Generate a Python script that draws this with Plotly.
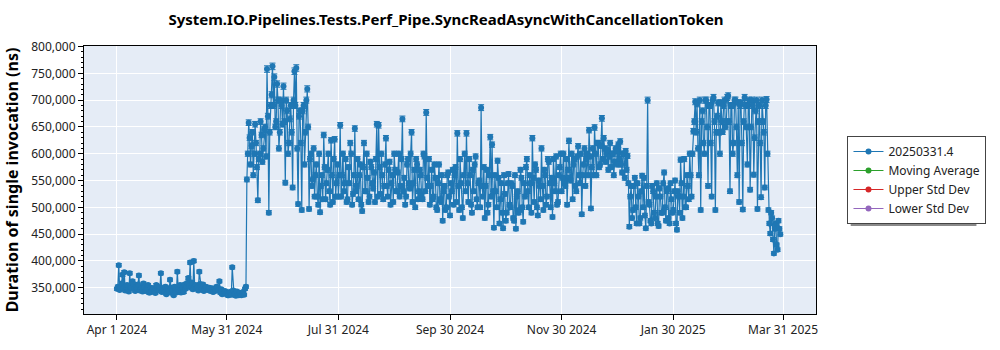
import pandas as pd
import plotly.graph_objects as go

TITLE = "System.IO.Pipelines.Tests.Perf_Pipe.SyncReadAsyncWithCancellationToken"
SERIES_NAME = "20250331.4"
Y_TITLE = "Duration of single invocation (ns)"
START_DATE = "2024-04-01"

# Morning run, mean duration in thousands of ns, one list per month
apr_2024 = [348, 392, 350, 374, 379, 352, 346, 377, 350, 357,
            344, 349, 373, 347, 343, 351, 346, 355, 341, 344,
            349, 340, 352, 345, 377, 348, 342, 338, 347, 365]
may_2024 = [340, 336, 345, 380, 343, 341, 350, 356, 352, 368,
            397, 360, 400, 355, 350, 380, 352, 356, 348, 351,
            346, 344, 349, 343, 345, 350, 362, 347, 341, 344, 339]
jun_2024 = [336, 340, 388, 337, 335, 338, 340, 336, 342, 348,
            552, 658, 580, 640, 600, 620, 513, 600, 635, 610,
            650, 758, 490, 690, 763, 743, 660, 700, 640, 690]
jul_2024 = [726, 546, 680, 620, 690, 537, 754, 760, 506, 680,
            495, 690, 640, 721, 497, 600, 552, 520, 580, 505,
            491, 560, 635, 515, 570, 530, 625, 510, 627, 545, 520]
aug_2024 = [653, 560, 530, 590, 515, 545, 600, 525, 647, 540,
            515, 580, 493, 620, 530, 555, 520, 575, 535, 510,
            655, 653, 525, 560, 540, 629, 520, 585, 545, 510, 570]
sep_2024 = [530, 600, 540, 665, 555, 520, 590, 535, 640, 545,
            500, 580, 530, 560, 515, 595, 677, 540, 505, 570,
            520, 555, 495, 580, 510, 475, 540, 500, 565, 485]
oct_2024 = [530, 505, 575, 638, 495, 545, 480, 600, 638, 510,
            560, 490, 530, 595, 500, 550, 686, 520, 480, 570,
            505, 631, 617, 462, 530, 587, 470, 545, 461, 525, 490]
nov_2024 = [562, 500, 540, 475, 460, 530, 495, 555, 473, 520,
            590, 500, 545, 629, 510, 570, 485, 540, 610, 495,
            560, 520, 585, 500, 482, 545, 595, 510, 575, 530]
dec_2024 = [600, 540, 505, 624, 550, 515, 590, 530, 614, 545,
            487, 580, 540, 600, 644, 498, 610, 649, 560, 620,
            580, 666, 629, 585, 608, 595, 575, 600, 585, 605, 617]
jan_2025 = [623, 565, 600, 605, 596, 464, 540, 495, 555, 470,
            520, 480, 559, 555, 461, 700, 505, 470, 530, 480,
            545, 465, 520, 490, 565, 475, 535, 470, 515, 495, 550]
feb_2025 = [458, 520, 589, 480, 590, 500, 540, 600, 520, 642,
            697, 693, 560, 495, 680, 600, 700, 540, 690, 520,
            705, 495, 670, 640, 695, 641, 700, 660]
mar_2025 = [708, 530, 690, 620, 700, 560, 510, 695, 496, 705,
            650, 690, 533, 700, 561, 680, 497, 690, 519, 660,
            537, 701, 495, 451, 480, 414, 470, 421, 460]

# Afternoon run, mean duration in thousands of ns, one list per month
apr_2024_b = [352, 346, 358, 349, 345, 355, 343, 350, 362, 347,
              352, 356, 345, 350, 358, 344, 349, 341, 350, 347,
              343, 355, 346, 351, 342, 345, 352, 349, 343, 350]
may_2024_b = [345, 352, 341, 347, 355, 346, 342, 348, 359, 353,
              350, 347, 353, 349, 345, 357, 348, 344, 352, 347,
              350, 346, 342, 348, 352, 345, 341, 338, 343, 339, 336]
jun_2024_b = [342, 337, 345, 339, 343, 336, 339, 341, 337, 352,
              600, 630, 615, 560, 655, 575, 590, 660, 585, 645,
              595, 670, 640, 710, 690, 650, 730, 610, 700, 655]
jul_2024_b = [660, 700, 600, 665, 640, 700, 690, 610, 670, 620,
              680, 580, 700, 650, 590, 540, 610, 560, 520, 600,
              540, 515, 575, 545, 600, 505, 560, 590, 520, 580, 560]
aug_2024_b = [520, 600, 545, 510, 575, 620, 505, 560, 530, 590,
              560, 505, 575, 530, 600, 510, 585, 545, 565, 590,
              520, 575, 600, 515, 580, 540, 570, 505, 560, 600, 530]
sep_2024_b = [565, 520, 590, 530, 505, 580, 545, 600, 510, 570,
              590, 515, 570, 520, 600, 530, 555, 590, 540, 515,
              580, 500, 545, 515, 560, 530, 495, 560, 520, 545]
oct_2024_b = [570, 560, 510, 540, 590, 500, 560, 530, 545, 590,
              505, 570, 580, 515, 545, 500, 540, 575, 540, 490,
              560, 520, 530, 560, 500, 555, 515, 490, 560, 475, 545]
nov_2024_b = [505, 545, 480, 560, 520, 490, 570, 500, 545, 575,
              530, 560, 490, 555, 580, 500, 550, 515, 540, 570,
              505, 590, 545, 555, 590, 530, 505, 560, 600, 555]
dec_2024_b = [545, 590, 570, 555, 600, 580, 540, 595, 560, 600,
              560, 610, 590, 560, 595, 575, 560, 600, 620, 575,
              615, 590, 610, 600, 570, 620, 600, 560, 610, 580, 590]
jan_2025_b = [580, 600, 555, 570, 545, 520, 480, 540, 500, 545,
              470, 530, 500, 485, 540, 510, 475, 540, 490, 520,
              470, 535, 490, 545, 500, 530, 480, 545, 490, 530, 470]
feb_2025_b = [530, 490, 545, 520, 500, 560, 515, 560, 600, 660,
              640, 610, 700, 660, 620, 700, 650, 690, 620, 700,
              660, 640, 695, 600, 660, 690, 650, 705]
mar_2025_b = [660, 690, 600, 700, 650, 695, 690, 620, 660, 690,
              580, 700, 650, 690, 630, 700, 660, 620, 700, 640,
              690, 600, 470, 490, 440, 460, 430, 475, 450]

legend_extra = ["Moving Average", "Upper Std Dev", "Lower Std Dev"]
legend_colors = ["#2ca02c", "#d62728", "#9467bd"]

tick_dates = ["2024-04-01", "2024-05-31", "2024-07-31", "2024-09-30",
              "2024-11-30", "2025-01-30", "2025-03-31"]
tick_labels = ["Apr 1 2024", "May 31 2024", "Jul 31 2024", "Sep 30 2024",
               "Nov 30 2024", "Jan 30 2025", "Mar 31 2025"]
y_ticks = [350000, 400000, 450000, 500000, 550000, 600000, 650000, 700000, 750000, 800000]

months_a = [apr_2024, may_2024, jun_2024, jul_2024, aug_2024, sep_2024,
            oct_2024, nov_2024, dec_2024, jan_2025, feb_2025, mar_2025]
months_b = [apr_2024_b, may_2024_b, jun_2024_b, jul_2024_b, aug_2024_b, sep_2024_b,
            oct_2024_b, nov_2024_b, dec_2024_b, jan_2025_b, feb_2025_b, mar_2025_b]
vals_a = [v for m in months_a for v in m]
vals_b = [v for m in months_b for v in m]
days = pd.date_range(START_DATE, periods=len(vals_a), freq="D")

xs, ys = [], []
for d, a, b in zip(days, vals_a, vals_b):
    xs += [d, d + pd.Timedelta(hours=12)]
    ys += [a * 1000, b * 1000]

FONT = "Noto Sans, Open Sans, sans-serif"
BLUE = "#1f77b4"

fig = go.Figure()
fig.add_trace(go.Scatter(
    x=xs, y=ys, name=SERIES_NAME, mode="lines+markers",
    line=dict(color=BLUE, width=1.2),
    marker=dict(color=BLUE, size=6),
    error_y=dict(type="percent", value=0.8, color=BLUE, thickness=1, width=3),
))
for name, col in zip(legend_extra, legend_colors):
    fig.add_trace(go.Scatter(
        x=[None], y=[None], name=name, mode="lines+markers",
        line=dict(color=col, width=1.2), marker=dict(color=col, size=6),
    ))

# legend drop shadow
fig.add_shape(type="rect", xref="paper", yref="paper",
              x0=1.0474, x1=1.2192, y0=0.3285, y1=0.6569,
              fillcolor="#8a8a8a", line=dict(width=0), layer="above")

fig.update_layout(
    width=1000, height=350,
    margin=dict(l=77, r=184, t=46, b=30),
    paper_bgcolor="white", plot_bgcolor="#E5ECF6",
    font=dict(family=FONT, size=12, color="#222"),
    title=dict(text=TITLE, x=0.446, xanchor="center", y=0.945, yanchor="middle",
               font=dict(family=FONT, size=15, color="black", weight="bold")),
    showlegend=True,
    legend=dict(x=1.043, xanchor="left", y=0.5, yanchor="middle",
                bgcolor="white", bordercolor="#444", borderwidth=1,
                font=dict(size=12, color="#222"), tracegroupgap=4),
)
fig.update_xaxes(
    type="date", range=["2024-03-14", "2025-04-18"],
    tickvals=tick_dates, ticktext=tick_labels,
    showgrid=True, gridcolor="white", gridwidth=1,
    showline=True, linecolor="black", linewidth=1, mirror=True,
    ticks="outside", ticklen=5, tickcolor="black",
    tickfont=dict(size=12, color="#222"),
)
fig.update_yaxes(
    range=[301000, 801000], tickvals=y_ticks, tickformat=",d",
    showgrid=True, gridcolor="white", gridwidth=1,
    showline=True, linecolor="black", linewidth=1, mirror=True,
    ticks="outside", ticklen=5, tickcolor="black",
    minor=dict(ticks="outside", ticklen=2, dtick=10000, tickcolor="black", showgrid=False),
    tickfont=dict(size=12, color="#222"),
    title=dict(text=Y_TITLE, standoff=8,
               font=dict(family=FONT, size=16, color="black", weight="bold")),
)

fig.write_html("out.html")
